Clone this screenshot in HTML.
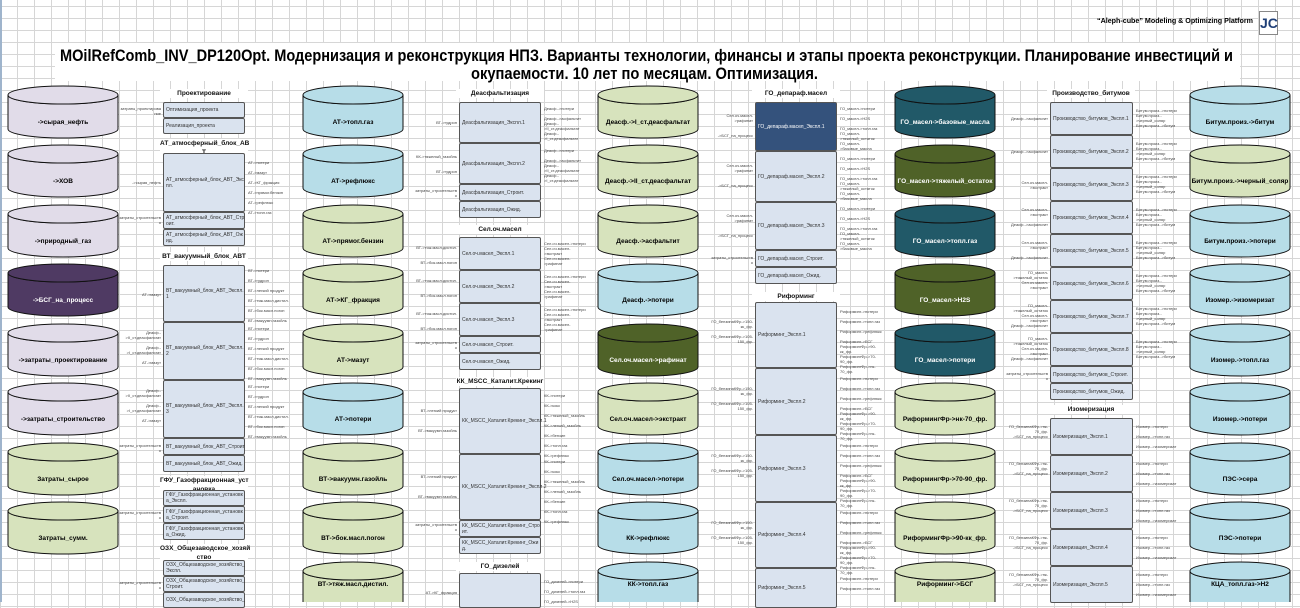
<!DOCTYPE html>
<html><head><meta charset="utf-8"><style>
body{margin:0;width:1300px;height:602px;overflow:hidden;position:relative;background:#fff;font-family:"Liberation Sans",sans-serif;
background-image:linear-gradient(#d6d6d6 1px,transparent 1px),linear-gradient(90deg,#d6d6d6 1px,transparent 1px);background-size:17px 12px;background-position:0 6px}
.t{position:absolute;font-weight:bold;font-size:6.5px;text-align:center;background:#fff;color:#111;line-height:9px}
.b{position:absolute;box-sizing:border-box;border:1px solid #555;border-radius:2px;background:#dae3ef;font-size:5px;color:#333;display:flex;align-items:center;padding:1px 2px;line-height:6px}
.l{position:absolute;font-size:4px;color:#444;white-space:nowrap;line-height:5px}
.r{text-align:right}
</style></head><body>
<div style="position:absolute;left:0;top:0;width:2px;height:602px;background:#9fb4cc"></div>
<div style="position:absolute;left:55px;top:43px;width:1185px;height:38px;background:#fff"></div>
<div style="position:absolute;left:1259px;top:11px;width:17px;height:22px;border:1px solid #888;background:#fff;font-weight:bold;font-size:14px;color:#1f3f77;text-align:center;line-height:22px">JC</div>
<svg width="1300" height="90" style="position:absolute;left:0;top:0" font-family="Liberation Sans,sans-serif" font-weight="bold">
<text x="1097" y="23" font-size="7" textLength="156" lengthAdjust="spacingAndGlyphs">“Aleph-cube” Modeling &amp; Optimizing Platform</text>
<text x="60" y="61" font-size="16.5" textLength="1173" lengthAdjust="spacingAndGlyphs">MOilRefComb_INV_DP120Opt. Модернизация и реконструкция НПЗ. Варианты технологии, финансы и этапы проекта реконструкции. Планирование инвестиций и</text>
<text x="471" y="79" font-size="16.5" textLength="347" lengthAdjust="spacingAndGlyphs">окупаемости. 10 лет по месяцам. Оптимизация.</text>
</svg>

<svg width="1300" height="602" style="position:absolute;left:0;top:0" font-family="Liberation Sans,sans-serif" font-size="6.5" font-weight="bold" text-anchor="middle">
<defs>
<g id="cA" stroke="#111" stroke-width="1"><path d="M0,9 A55,9 0 0 0 110,9 L110,43 A55,9 0 0 1 0,43 Z"/><ellipse cx="55" cy="9" rx="55" ry="9"/></g>
<g id="cB" stroke="#111" stroke-width="1"><path d="M0,9 A50,9 0 0 0 100,9 L100,43 A50,9 0 0 1 0,43 Z"/><ellipse cx="50" cy="9" rx="50" ry="9"/></g>
</defs>
<g>
<use href="#cA" x="8" y="86" fill="#e1dce9"/><text x="63" y="124">-&gt;сырая_нефть</text>
<use href="#cA" x="8" y="145" fill="#e1dce9"/><text x="63" y="183">-&gt;ХОВ</text>
<use href="#cA" x="8" y="205" fill="#e1dce9"/><text x="63" y="243">-&gt;природный_газ</text>
<use href="#cA" x="8" y="264" fill="#4f3a63"/><text x="63" y="302" fill="#fff">-&gt;БСГ_на_процесс</text>
<use href="#cA" x="8" y="324" fill="#e1dce9"/><text x="63" y="362">-&gt;затраты_проектирование</text>
<use href="#cA" x="8" y="383" fill="#e1dce9"/><text x="63" y="421">-&gt;затраты_строительство</text>
<use href="#cA" x="8" y="443" fill="#d7e3bd"/><text x="63" y="481">Затраты_сырое</text>
<use href="#cA" x="8" y="502" fill="#d7e3bd"/><text x="63" y="540">Затраты_сумм.</text>
</g>
<g>
<use href="#cB" x="303" y="86" fill="#b7dde8"/><text x="353" y="124">АТ-&gt;топл.газ</text>
<use href="#cB" x="303" y="145" fill="#b7dde8"/><text x="353" y="183">АТ-&gt;рефлюкс</text>
<use href="#cB" x="303" y="205" fill="#d7e3bd"/><text x="353" y="243">АТ-&gt;прямог.бензин</text>
<use href="#cB" x="303" y="264" fill="#d7e3bd"/><text x="353" y="302">АТ-&gt;КГ_фракция</text>
<use href="#cB" x="303" y="324" fill="#d7e3bd"/><text x="353" y="362">АТ-&gt;мазут</text>
<use href="#cB" x="303" y="383" fill="#b7dde8"/><text x="353" y="421">АТ-&gt;потери</text>
<use href="#cB" x="303" y="443" fill="#d7e3bd"/><text x="353" y="481">ВТ-&gt;вакуумн.газойль</text>
<use href="#cB" x="303" y="502" fill="#d7e3bd"/><text x="353" y="540">ВТ-&gt;бок.масл.погон</text>
<use href="#cB" x="303" y="562" fill="#d7e3bd"/><text x="353" y="586">ВТ-&gt;тяж.масл.дистил.</text>
</g>
<g>
<use href="#cB" x="598" y="86" fill="#d7e3bd"/><text x="648" y="124">Деасф.-&gt;I_ст.деасфальтат</text>
<use href="#cB" x="598" y="145" fill="#d7e3bd"/><text x="648" y="183">Деасф.-&gt;II_ст.деасфальтат</text>
<use href="#cB" x="598" y="205" fill="#d7e3bd"/><text x="648" y="243">Деасф.-&gt;асфальтит</text>
<use href="#cB" x="598" y="264" fill="#b7dde8"/><text x="648" y="302">Деасф.-&gt;потери</text>
<use href="#cB" x="598" y="324" fill="#4f6228"/><text x="648" y="362" fill="#fff">Сел.оч.масел-&gt;рафинат</text>
<use href="#cB" x="598" y="383" fill="#d7e3bd"/><text x="648" y="421">Сел.оч.масел-&gt;экстракт</text>
<use href="#cB" x="598" y="443" fill="#b7dde8"/><text x="648" y="481">Сел.оч.масел-&gt;потери</text>
<use href="#cB" x="598" y="502" fill="#b7dde8"/><text x="648" y="540">КК-&gt;рефлюкс</text>
<use href="#cB" x="598" y="562" fill="#b7dde8"/><text x="648" y="586">КК-&gt;топл.газ</text>
</g>
<g>
<use href="#cB" x="895" y="86" fill="#215968"/><text x="945" y="124" fill="#fff">ГО_масел-&gt;базовые_масла</text>
<use href="#cB" x="895" y="145" fill="#4f6228"/><text x="945" y="183" fill="#fff">ГО_масел-&gt;тяжелый_остаток</text>
<use href="#cB" x="895" y="205" fill="#215968"/><text x="945" y="243" fill="#fff">ГО_масел-&gt;топл.газ</text>
<use href="#cB" x="895" y="264" fill="#4f6228"/><text x="945" y="302" fill="#fff">ГО_масел-&gt;H2S</text>
<use href="#cB" x="895" y="324" fill="#215968"/><text x="945" y="362" fill="#fff">ГО_масел-&gt;потери</text>
<use href="#cB" x="895" y="383" fill="#d7e3bd"/><text x="945" y="421">РиформингФр-&gt;нк-70_фр.</text>
<use href="#cB" x="895" y="443" fill="#d7e3bd"/><text x="945" y="481">РиформингФр-&gt;70-90_фр.</text>
<use href="#cB" x="895" y="502" fill="#d7e3bd"/><text x="945" y="540">РиформингФр-&gt;90-кк_фр.</text>
<use href="#cB" x="895" y="562" fill="#d7e3bd"/><text x="945" y="586">Риформинг-&gt;БСГ</text>
</g>
<g>
<use href="#cB" x="1190" y="86" fill="#b7dde8"/><text x="1240" y="124">Битум.произ.-&gt;битум</text>
<use href="#cB" x="1190" y="145" fill="#d7e3bd"/><text x="1240" y="183">Битум.произ.-&gt;черный_соляр</text>
<use href="#cB" x="1190" y="205" fill="#b7dde8"/><text x="1240" y="243">Битум.произ.-&gt;потери</text>
<use href="#cB" x="1190" y="264" fill="#b7dde8"/><text x="1240" y="302">Изомер.-&gt;изомеризат</text>
<use href="#cB" x="1190" y="324" fill="#b7dde8"/><text x="1240" y="362">Изомер.-&gt;топл.газ</text>
<use href="#cB" x="1190" y="383" fill="#b7dde8"/><text x="1240" y="421">Изомер.-&gt;потери</text>
<use href="#cB" x="1190" y="443" fill="#b7dde8"/><text x="1240" y="481">ПЭС-&gt;сера</text>
<use href="#cB" x="1190" y="502" fill="#b7dde8"/><text x="1240" y="540">ПЭС-&gt;потери</text>
<use href="#cB" x="1190" y="562" fill="#b7dde8"/><text x="1240" y="586">КЦА_топл.газ-&gt;H2</text>
</g>
</svg>

<!-- Column A -->
<div class="t" style="left:160px;top:89px;width:88px">Проектирование</div>
<div class="b" style="left:163px;top:102px;width:82px;height:16px">Оптимизация_проекта</div>
<div class="b" style="left:163px;top:118px;width:82px;height:16px">Реализация_проекта</div>
<div class="l r" style="left:110px;top:106px;width:51px">затраты_проектирова<br>ние</div>
<div class="t" style="left:160px;top:139px;width:88px">АТ_атмосферный_блок_АВ<br>Т</div>
<div class="b" style="left:163px;top:153px;width:82px;height:59px">АТ_атмосферный_блок_АВТ_Экс<br>пл.</div>
<div class="b" style="left:163px;top:212px;width:82px;height:17px">АТ_атмосферный_блок_АВТ_Стр<br>оит.</div>
<div class="b" style="left:163px;top:229px;width:82px;height:17px">АТ_атмосферный_блок_АВТ_Ож<br>ид.</div>
<div class="l r" style="left:110px;top:180px;width:51px">->сырая_нефть</div>
<div class="l r" style="left:110px;top:215px;width:51px">затраты_строительств<br>о</div>
<div class="l" style="left:248px;top:160px">АТ->потери<br><br>АТ->мазут<br><br>АТ->КГ_фракция<br><br>АТ->прямог.бензин<br><br>АТ->рефлюкс<br><br>АТ->топл.газ</div>
<div class="t" style="left:160px;top:252px;width:88px">ВТ_вакуумный_блок_АВТ</div>
<div class="b" style="left:163px;top:265px;width:82px;height:57px">ВТ_вакуумный_блок_АВТ_Экспл.<br>1</div>
<div class="b" style="left:163px;top:322px;width:82px;height:58px">ВТ_вакуумный_блок_АВТ_Экспл.<br>2</div>
<div class="b" style="left:163px;top:380px;width:82px;height:58px">ВТ_вакуумный_блок_АВТ_Экспл.<br>3</div>
<div class="b" style="left:163px;top:438px;width:82px;height:17px">ВТ_вакуумный_блок_АВТ_Строит</div>
<div class="b" style="left:163px;top:455px;width:82px;height:17px">ВТ_вакуумный_блок_АВТ_Ожид.</div>
<div class="l r" style="left:110px;top:292px;width:51px">АТ->мазут</div>
<div class="l r" style="left:110px;top:330px;width:51px">Деасф.-<br>>II_ст.деасфальтат<br><br>Деасф.-<br>>I_ст.деасфальтат<br><br>АТ->мазут</div>
<div class="l r" style="left:110px;top:388px;width:51px">Деасф.-<br>>II_ст.деасфальтат<br><br>Деасф.-<br>>I_ст.деасфальтат<br><br>АТ->мазут</div>
<div class="l r" style="left:110px;top:443px;width:51px">затраты_строительств<br>о</div>
<div class="l" style="left:248px;top:268px">ВТ->потери<br><br>ВТ->гудрон<br><br>ВТ->легкий продукт<br><br>ВТ->тяж.масл.дистил.<br><br>ВТ->бок.масл.погон<br><br>ВТ->вакуумн.газойль</div>
<div class="l" style="left:248px;top:326px">ВТ->потери<br><br>ВТ->гудрон<br><br>ВТ->легкий продукт<br><br>ВТ->тяж.масл.дистил.<br><br>ВТ->бок.масл.погон<br><br>ВТ->вакуумн.газойль</div>
<div class="l" style="left:248px;top:384px">ВТ->потери<br><br>ВТ->гудрон<br><br>ВТ->легкий продукт<br><br>ВТ->тяж.масл.дистил.<br><br>ВТ->бок.масл.погон<br><br>ВТ->вакуумн.газойль</div>
<div class="t" style="left:160px;top:476px;width:88px">ГФУ_Газофракционная_уст<br>ановка</div>
<div class="b" style="left:163px;top:490px;width:82px;height:16px">ГФУ_Газофракционная_установк<br>а_Экспл.</div>
<div class="b" style="left:163px;top:506px;width:82px;height:17px">ГФУ_Газофракционная_установк<br>а_Строит.</div>
<div class="b" style="left:163px;top:523px;width:82px;height:17px">ГФУ_Газофракционная_установк<br>а_Ожид.</div>
<div class="l r" style="left:110px;top:510px;width:51px">затраты_строительств<br>о</div>
<div class="t" style="left:160px;top:544px;width:88px">ОЗХ_Общезаводское_хозяй<br>ство</div>
<div class="b" style="left:163px;top:560px;width:82px;height:16px">ОЗХ_Общезаводское_хозяйство_<br>Экспл.</div>
<div class="b" style="left:163px;top:576px;width:82px;height:16px">ОЗХ_Общезаводское_хозяйство_<br>Строит.</div>
<div class="b" style="left:163px;top:592px;width:82px;height:16px">ОЗХ_Общезаводское_хозяйство_</div>
<div class="l r" style="left:110px;top:580px;width:51px">затраты_строительств<br>о</div>

<!-- Column B -->
<div class="t" style="left:456px;top:89px;width:88px">Деасфальтизация</div>
<div class="b" style="left:459px;top:102px;width:82px;height:41px">Деасфальтизация_Экспл.1</div>
<div class="b" style="left:459px;top:143px;width:82px;height:41px">Деасфальтизация_Экспл.2</div>
<div class="b" style="left:459px;top:184px;width:82px;height:17px">Деасфальтизация_Строит.</div>
<div class="b" style="left:459px;top:201px;width:82px;height:17px">Деасфальтизация_Ожид.</div>
<div class="l r" style="left:405px;top:120px;width:52px">ВТ->гудрон</div>
<div class="l r" style="left:405px;top:154px;width:52px">КК->тяжелый_газойль<br><br><br>ВТ->гудрон</div>
<div class="l r" style="left:405px;top:188px;width:52px">затраты_строительств<br>о</div>
<div class="l" style="left:544px;top:106px">Деасф.->потери<br><br>Деасф.->асфальтит<br>Деасф.-<br>>II_ст.деасфальтат<br>Деасф.-<br>>I_ст.деасфальтат</div>
<div class="l" style="left:544px;top:148px">Деасф.->потери<br><br>Деасф.->асфальтит<br>Деасф.-<br>>II_ст.деасфальтат<br>Деасф.-<br>>I_ст.деасфальтат</div>
<div class="t" style="left:456px;top:225px;width:88px">Сел.оч.масел</div>
<div class="b" style="left:459px;top:237px;width:82px;height:33px">Сел.оч.масел_Экспл.1</div>
<div class="b" style="left:459px;top:270px;width:82px;height:33px">Сел.оч.масел_Экспл.2</div>
<div class="b" style="left:459px;top:303px;width:82px;height:33px">Сел.оч.масел_Экспл.3</div>
<div class="b" style="left:459px;top:336px;width:82px;height:17px">Сел.оч.масел_Строит.</div>
<div class="b" style="left:459px;top:353px;width:82px;height:17px">Сел.оч.масел_Ожид.</div>
<div class="l r" style="left:400px;top:245px;width:57px">ВТ->тяж.масл.дистил.<br><br><br>ВТ->бок.масл.погон</div>
<div class="l r" style="left:400px;top:278px;width:57px">ВТ->тяж.масл.дистил.<br><br><br>ВТ->бок.масл.погон</div>
<div class="l r" style="left:400px;top:311px;width:57px">ВТ->тяж.масл.дистил.<br><br><br>ВТ->бок.масл.погон</div>
<div class="l r" style="left:400px;top:340px;width:57px">затраты_строительств<br>о</div>
<div class="l" style="left:544px;top:241px">Сел.оч.масел->потери<br>Сел.оч.масел-<br>>экстракт<br>Сел.оч.масел-<br>>рафинат</div>
<div class="l" style="left:544px;top:274px">Сел.оч.масел->потери<br>Сел.оч.масел-<br>>экстракт<br>Сел.оч.масел-<br>>рафинат</div>
<div class="l" style="left:544px;top:307px">Сел.оч.масел->потери<br>Сел.оч.масел-<br>>экстракт<br>Сел.оч.масел-<br>>рафинат</div>
<div class="t" style="left:456px;top:377px;width:88px">КК_MSCC_Каталит.Крекинг</div>
<div class="b" style="left:459px;top:388px;width:82px;height:66px">КК_MSCC_Каталит.Крекинг_Экспл.1</div>
<div class="b" style="left:459px;top:454px;width:82px;height:66px">КК_MSCC_Каталит.Крекинг_Экспл.2</div>
<div class="b" style="left:459px;top:520px;width:82px;height:17px">КК_MSCC_Каталит.Крекинг_Стро<br>ит.</div>
<div class="b" style="left:459px;top:537px;width:82px;height:17px">КК_MSCC_Каталит.Крекинг_Ожи<br>д.</div>
<div class="l r" style="left:400px;top:408px;width:57px">ВТ->легкий продукт<br><br><br><br>ВТ->вакуумн.газойль</div>
<div class="l r" style="left:400px;top:474px;width:57px">ВТ->легкий продукт<br><br><br><br>ВТ->вакуумн.газойль</div>
<div class="l r" style="left:400px;top:522px;width:57px">затраты_строительств<br>о</div>
<div class="l" style="left:544px;top:393px">КК->потери<br><br>КК->кокс<br><br>КК->тяжелый_газойль<br><br>КК->легкий_газойль<br><br>КК->бензин<br><br>КК->топл.газ<br><br>КК->рефлюкс</div>
<div class="l" style="left:544px;top:459px">КК->потери<br><br>КК->кокс<br><br>КК->тяжелый_газойль<br><br>КК->легкий_газойль<br><br>КК->бензин<br><br>КК->топл.газ<br><br>КК->рефлюкс</div>
<div class="t" style="left:456px;top:562px;width:88px">ГО_дизелей</div>
<div class="b" style="left:459px;top:573px;width:82px;height:35px"></div>
<div class="l r" style="left:400px;top:590px;width:57px">АТ->КГ_фракция</div>
<div class="l" style="left:544px;top:579px">ГО_дизелей->потери<br><br>ГО_дизелей->топл.газ<br><br>ГО_дизелей->H2S</div>

<!-- Column C -->
<div class="t" style="left:752px;top:89px;width:88px">ГО_депараф.масел</div>
<div class="b" style="left:755px;top:102px;width:82px;height:49px;background:#34527c;color:#fff">ГО_депараф.масел_Экспл.1</div>
<div class="b" style="left:755px;top:151px;width:82px;height:51px">ГО_депараф.масел_Экспл.2</div>
<div class="b" style="left:755px;top:202px;width:82px;height:48px">ГО_депараф.масел_Экспл.3</div>
<div class="b" style="left:755px;top:250px;width:82px;height:17px">ГО_депараф.масел_Строит.</div>
<div class="b" style="left:755px;top:267px;width:82px;height:17px">ГО_депараф.масел_Ожид.</div>
<div class="l r" style="left:700px;top:113px;width:53px">Сел.оч.масел-<br>>рафинат<br><br><br>->БСГ_на_процесс</div>
<div class="l r" style="left:700px;top:163px;width:53px">Сел.оч.масел-<br>>рафинат<br><br><br>->БСГ_на_процесс</div>
<div class="l r" style="left:700px;top:213px;width:53px">Сел.оч.масел-<br>>рафинат<br><br><br>->БСГ_на_процесс</div>
<div class="l r" style="left:700px;top:255px;width:53px">затраты_строительств<br>о</div>
<div class="l" style="left:840px;top:106px">ГО_масел->потери<br><br>ГО_масел->H2S<br><br>ГО_масел->топл.газ<br>ГО_масел-<br>>тяжелый_остаток<br>ГО_масел-<br>>базовые_масла</div>
<div class="l" style="left:840px;top:156px">ГО_масел->потери<br><br>ГО_масел->H2S<br><br>ГО_масел->топл.газ<br>ГО_масел-<br>>тяжелый_остаток<br>ГО_масел-<br>>базовые_масла</div>
<div class="l" style="left:840px;top:206px">ГО_масел->потери<br><br>ГО_масел->H2S<br><br>ГО_масел->топл.газ<br>ГО_масел-<br>>тяжелый_остаток<br>ГО_масел-<br>>базовые_масла</div>
<div class="t" style="left:752px;top:292px;width:88px">Риформинг</div>
<div class="b" style="left:755px;top:302px;width:82px;height:66px">Риформинг_Экспл.1</div>
<div class="b" style="left:755px;top:368px;width:82px;height:67px">Риформинг_Экспл.2</div>
<div class="b" style="left:755px;top:435px;width:82px;height:67px">Риформинг_Экспл.3</div>
<div class="b" style="left:755px;top:502px;width:82px;height:66px">Риформинг_Экспл.4</div>
<div class="b" style="left:755px;top:568px;width:82px;height:40px">Риформинг_Экспл.5</div>
<div class="l r" style="left:700px;top:319px;width:53px">ГО_бензинаКФр->150-<br>кк_фр.<br><br>ГО_бензинаКФр->105-<br>150_фр.</div>
<div class="l r" style="left:700px;top:386px;width:53px">ГО_бензинаКФр->150-<br>кк_фр.<br><br>ГО_бензинаКФр->105-<br>150_фр.</div>
<div class="l r" style="left:700px;top:453px;width:53px">ГО_бензинаКФр->150-<br>кк_фр.<br><br>ГО_бензинаКФр->105-<br>150_фр.</div>
<div class="l r" style="left:700px;top:520px;width:53px">ГО_бензинаКФр->150-<br>кк_фр.<br><br>ГО_бензинаКФр->105-<br>150_фр.</div>
<div class="l" style="left:840px;top:309px">Риформинг->потери<br><br>Риформинг->топл.газ<br><br>Риформинг->рефлюкс<br><br>Риформинг->БСГ<br>РиформингФр->90-<br>кк_фр.<br>РиформингФр->70-<br>90_фр.<br>РиформингФр->нк-<br>70_фр.</div>
<div class="l" style="left:840px;top:376px">Риформинг->потери<br><br>Риформинг->топл.газ<br><br>Риформинг->рефлюкс<br><br>Риформинг->БСГ<br>РиформингФр->90-<br>кк_фр.<br>РиформингФр->70-<br>90_фр.<br>РиформингФр->нк-<br>70_фр.</div>
<div class="l" style="left:840px;top:443px">Риформинг->потери<br><br>Риформинг->топл.газ<br><br>Риформинг->рефлюкс<br><br>Риформинг->БСГ<br>РиформингФр->90-<br>кк_фр.<br>РиформингФр->70-<br>90_фр.<br>РиформингФр->нк-<br>70_фр.</div>
<div class="l" style="left:840px;top:510px">Риформинг->потери<br><br>Риформинг->топл.газ<br><br>Риформинг->рефлюкс<br><br>Риформинг->БСГ<br>РиформингФр->90-<br>кк_фр.<br>РиформингФр->70-<br>90_фр.<br>РиформингФр->нк-<br>70_фр.</div>
<div class="l" style="left:840px;top:576px">Риформинг->потери<br><br>Риформинг->топл.газ</div>

<!-- Column D -->
<div class="t" style="left:1047px;top:89px;width:88px">Производство_битумов</div>
<div class="b" style="left:1050px;top:102px;width:83px;height:33px">Производство_битумов_Экспл.1</div>
<div class="b" style="left:1050px;top:135px;width:83px;height:33px">Производство_битумов_Экспл.2</div>
<div class="b" style="left:1050px;top:168px;width:83px;height:33px">Производство_битумов_Экспл.3</div>
<div class="b" style="left:1050px;top:201px;width:83px;height:33px">Производство_битумов_Экспл.4</div>
<div class="b" style="left:1050px;top:234px;width:83px;height:33px">Производство_битумов_Экспл.5</div>
<div class="b" style="left:1050px;top:267px;width:83px;height:33px">Производство_битумов_Экспл.6</div>
<div class="b" style="left:1050px;top:300px;width:83px;height:33px">Производство_битумов_Экспл.7</div>
<div class="b" style="left:1050px;top:333px;width:83px;height:33px">Производство_битумов_Экспл.8</div>
<div class="b" style="left:1050px;top:366px;width:83px;height:17px">Производство_битумов_Строит.</div>
<div class="b" style="left:1050px;top:383px;width:83px;height:17px">Производство_битумов_Ожид.</div>
<div class="l r" style="left:995px;top:116px;width:53px">Деасф.->асфальтит</div>
<div class="l r" style="left:995px;top:149px;width:53px">Деасф.->асфальтит</div>
<div class="l r" style="left:995px;top:180px;width:53px">Сел.оч.масел-<br>>экстракт</div>
<div class="l r" style="left:995px;top:207px;width:53px">Сел.оч.масел-<br>>экстракт<br><br>Деасф.->асфальтит</div>
<div class="l r" style="left:995px;top:240px;width:53px">Сел.оч.масел-<br>>экстракт<br><br>Деасф.->асфальтит</div>
<div class="l r" style="left:995px;top:270px;width:53px">ГО_масел-<br>>тяжелый_остаток<br>Сел.оч.масел-<br>>экстракт</div>
<div class="l r" style="left:995px;top:303px;width:53px">ГО_масел-<br>>тяжелый_остаток<br>Сел.оч.масел-<br>>экстракт<br>Деасф.->асфальтит</div>
<div class="l r" style="left:995px;top:336px;width:53px">ГО_масел-<br>>тяжелый_остаток<br>Сел.оч.масел-<br>>экстракт<br>Деасф.->асфальтит</div>
<div class="l r" style="left:990px;top:371px;width:58px">затраты_строительств<br>о</div>
<div class="l" style="left:1136px;top:108px">Битум.произ.->потери<br>Битум.произ.-<br>>черный_соляр<br>Битум.произ.->битум</div>
<div class="l" style="left:1136px;top:141px">Битум.произ.->потери<br>Битум.произ.-<br>>черный_соляр<br>Битум.произ.->битум</div>
<div class="l" style="left:1136px;top:174px">Битум.произ.->потери<br>Битум.произ.-<br>>черный_соляр<br>Битум.произ.->битум</div>
<div class="l" style="left:1136px;top:207px">Битум.произ.->потери<br>Битум.произ.-<br>>черный_соляр<br>Битум.произ.->битум</div>
<div class="l" style="left:1136px;top:240px">Битум.произ.->потери<br>Битум.произ.-<br>>черный_соляр<br>Битум.произ.->битум</div>
<div class="l" style="left:1136px;top:273px">Битум.произ.->потери<br>Битум.произ.-<br>>черный_соляр<br>Битум.произ.->битум</div>
<div class="l" style="left:1136px;top:306px">Битум.произ.->потери<br>Битум.произ.-<br>>черный_соляр<br>Битум.произ.->битум</div>
<div class="l" style="left:1136px;top:339px">Битум.произ.->потери<br>Битум.произ.-<br>>черный_соляр<br>Битум.произ.->битум</div>
<div class="t" style="left:1047px;top:405px;width:88px">Изомеризация</div>
<div class="b" style="left:1050px;top:418px;width:83px;height:37px">Изомеризация_Экспл.1</div>
<div class="b" style="left:1050px;top:455px;width:83px;height:37px">Изомеризация_Экспл.2</div>
<div class="b" style="left:1050px;top:492px;width:83px;height:37px">Изомеризация_Экспл.3</div>
<div class="b" style="left:1050px;top:529px;width:83px;height:37px">Изомеризация_Экспл.4</div>
<div class="b" style="left:1050px;top:566px;width:83px;height:37px">Изомеризация_Экспл.5</div>
<div class="l r" style="left:995px;top:424px;width:53px">ГО_бензинаКФр->нк-<br>70_фр.<br>->БСГ_на_процесс</div>
<div class="l r" style="left:995px;top:461px;width:53px">ГО_бензинаКФр->нк-<br>70_фр.<br>->БСГ_на_процесс</div>
<div class="l r" style="left:995px;top:498px;width:53px">ГО_бензинаКФр->нк-<br>70_фр.<br>->БСГ_на_процесс</div>
<div class="l r" style="left:995px;top:535px;width:53px">ГО_бензинаКФр->нк-<br>70_фр.<br>->БСГ_на_процесс</div>
<div class="l r" style="left:995px;top:572px;width:53px">ГО_бензинаКФр->нк-<br>70_фр.<br>->БСГ_на_процесс</div>
<div class="l" style="left:1136px;top:424px">Изомер.->потери<br><br>Изомер.->топл.газ<br><br>Изомер.->изомеризат</div>
<div class="l" style="left:1136px;top:461px">Изомер.->потери<br><br>Изомер.->топл.газ<br><br>Изомер.->изомеризат</div>
<div class="l" style="left:1136px;top:498px">Изомер.->потери<br><br>Изомер.->топл.газ<br><br>Изомер.->изомеризат</div>
<div class="l" style="left:1136px;top:535px">Изомер.->потери<br><br>Изомер.->топл.газ<br><br>Изомер.->изомеризат</div>
<div class="l" style="left:1136px;top:572px">Изомер.->потери<br><br>Изомер.->топл.газ<br><br>Изомер.->изомеризат</div>
</body></html>
